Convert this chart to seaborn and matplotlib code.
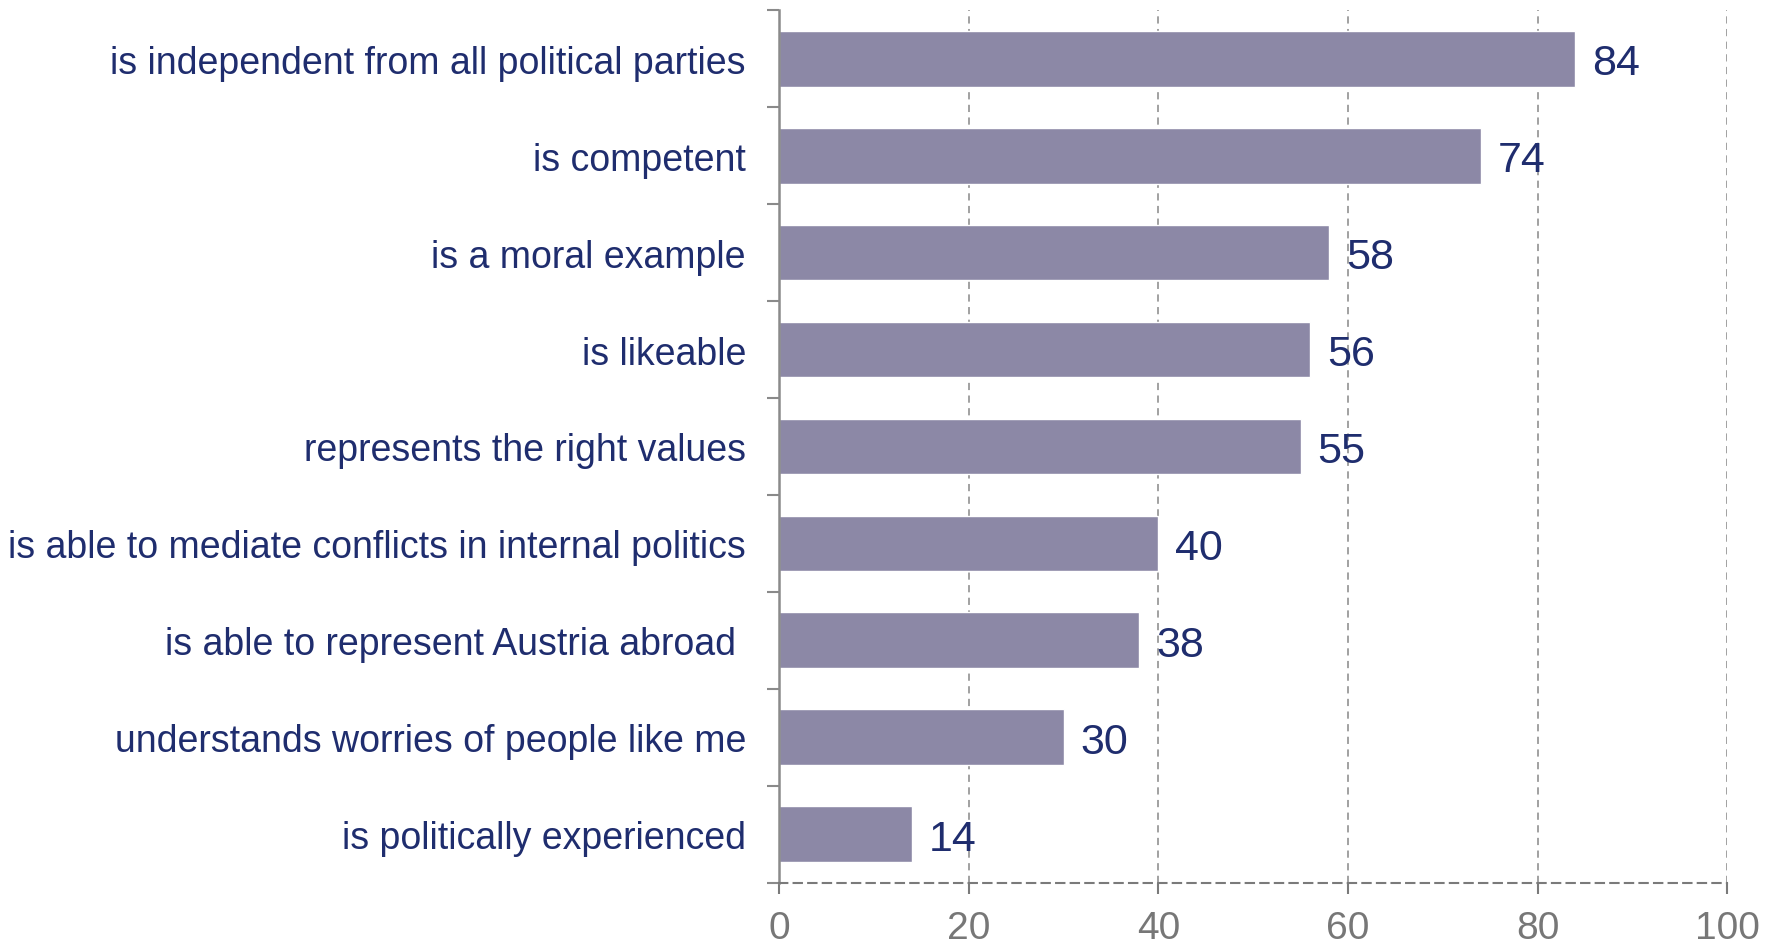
import numpy as np
import pandas as pd
import matplotlib.pyplot as plt
import seaborn as sns
from matplotlib.ticker import FixedLocator

#%% Data

traits = ['is independent from all political parties',
          'is competent',
          'is a moral example',
          'is likeable',
          'represents the right values',
          'is able to mediate conflicts in internal politics',
          'is able to represent Austria abroad ',
          'understands worries of people like me',
          'is politically experienced']
shares = [84, 74, 58, 56, 55, 40, 38, 30, 14]
x_ticks = [0, 20, 40, 60, 80, 100]

bar_color = '#8C88A6'
text_color = '#1F2D6E'
grid_color = '#9A9A9A'

#%% Plot

sns.set_theme(style='white')
plt.rcParams['font.family'] = ['Liberation Sans', 'DejaVu Sans']

df = pd.DataFrame({'trait': traits, 'share': shares})

fig, ax = plt.subplots(figsize=(17.75, 9.45), dpi=100)
fig.subplots_adjust(left=0.439, right=0.973, top=0.988, bottom=0.065)

sns.barplot(data=df, x='share', y='trait', color=bar_color, width=0.575,
            saturation=1, ax=ax)

for i, v in enumerate(shares):
    ax.text(v + 1.8, i, str(v), va='center_baseline', ha='left',
            fontsize=31, color=text_color)

ax.set_xlim(0, 100)
ax.set_ylim(8.5, -0.5)
ax.set_xticks(x_ticks)
ax.set_xlabel('')
ax.set_ylabel('')

# dashed vertical grid
for x in x_ticks[1:]:
    ax.axvline(x, color=grid_color, lw=1.3, ls=(0, (4, 3)), zorder=0)

for s in ['top', 'right']:
    ax.spines[s].set_visible(False)
ax.spines['left'].set_color('#8A8A8A')
ax.spines['left'].set_linewidth(1.8)
ax.spines['bottom'].set_color('#7A7A7A')
ax.spines['bottom'].set_linewidth(1.5)
ax.spines['bottom'].set_linestyle((0, (4, 3)))

ax.yaxis.set_minor_locator(FixedLocator(np.arange(-0.5, 9, 1)))
ax.tick_params(axis='y', which='major', length=0, pad=24,
               labelsize=27, labelcolor=text_color)
ax.tick_params(axis='y', which='minor', left=True, length=9, width=1.5,
               color='#8A8A8A', direction='out')
ax.tick_params(axis='x', which='major', bottom=True, length=8, width=1.5,
               color='#7A7A7A', direction='out', pad=12,
               labelsize=28, labelcolor='#777777')

plt.savefig('out.png', dpi=100)
